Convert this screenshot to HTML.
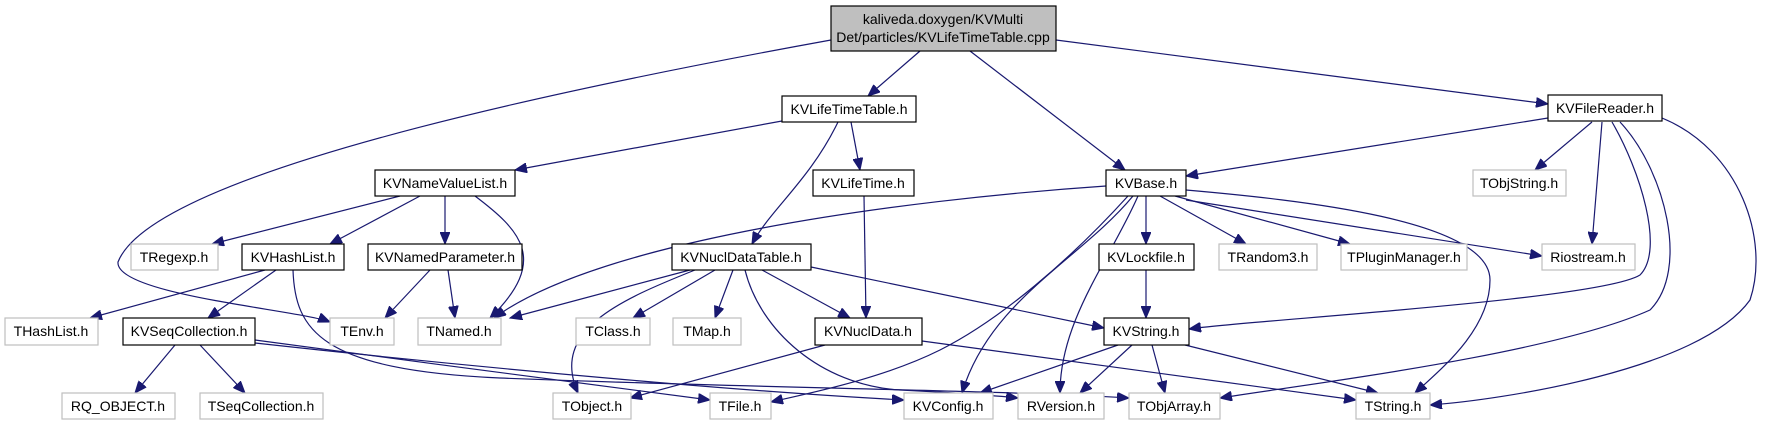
<!DOCTYPE html>
<html><head><meta charset="utf-8"><style>
html,body{margin:0;padding:0;background:#fff;}
svg{display:block;}
text{font-family:"Liberation Sans",sans-serif;font-size:14px;fill:#000;text-anchor:middle;}
.b{fill:#fff;stroke:#000;stroke-width:1.2;}
.g{fill:#fff;stroke:#bfbfbf;stroke-width:1.2;}
.e{fill:none;stroke:#191970;stroke-width:1.2;marker-end:url(#a);}
</style></head><body>
<svg width="1767" height="425" viewBox="0 0 1767 425" xmlns="http://www.w3.org/2000/svg">
<defs><marker id="a" markerUnits="userSpaceOnUse" markerWidth="14" markerHeight="10" refX="12" refY="5" orient="auto"><path d="M0,0 L12,5 L0,10 z" fill="#191970" stroke="#191970"/></marker></defs>
<path class="e" d="M920,51 L868,96"/>
<path class="e" d="M970,51 L1125,170"/>
<path class="e" d="M1056,40 L1548,104"/>
<path class="e" d="M831,40 C500,100 150,180 118,262 C115,295 300,310 330,322"/>
<path class="e" d="M782,121 L515,170"/>
<path class="e" d="M851,122 L860,170"/>
<path class="e" d="M838,122 C810,180 770,210 752,244"/>
<path class="e" d="M864,196 L866,318"/>
<path class="e" d="M1548,118 L1186,176"/>
<path class="e" d="M1592,122 L1535,170"/>
<path class="e" d="M1602,122 L1592,244"/>
<path class="e" d="M1612,122 C1640,170 1665,250 1640,275 C1600,300 1250,320 1189,329"/>
<path class="e" d="M1620,122 C1665,170 1690,270 1650,310 C1550,355 1300,385 1220,398"/>
<path class="e" d="M1662,118 C1740,150 1770,240 1750,300 C1700,370 1500,400 1430,405"/>
<path class="e" d="M1106,186 C900,200 600,240 494,318"/>
<path class="e" d="M1128,196 C1070,260 1000,320 940,350 C880,380 800,395 771,402"/>
<path class="e" d="M1133,196 C1080,260 990,300 962,393"/>
<path class="e" d="M1138,196 C1110,260 1060,320 1060,393"/>
<path class="e" d="M1146,196 L1146,244"/>
<path class="e" d="M1160,196 L1246,244"/>
<path class="e" d="M1175,196 L1350,244"/>
<path class="e" d="M1186,200 L1542,256"/>
<path class="e" d="M1186,190 C1300,200 1490,220 1490,280 C1490,330 1440,370 1415,393"/>
<path class="e" d="M1146,270 L1146,318"/>
<path class="e" d="M1118,345 L980,393"/>
<path class="e" d="M1132,345 L1080,393"/>
<path class="e" d="M1152,345 L1165,393"/>
<path class="e" d="M1185,345 L1378,393"/>
<path class="e" d="M400,196 L212,244"/>
<path class="e" d="M420,196 L330,244"/>
<path class="e" d="M445,196 L445,244"/>
<path class="e" d="M475,196 C520,230 550,260 490,318"/>
<path class="e" d="M265,270 L90,318"/>
<path class="e" d="M276,270 L208,318"/>
<path class="e" d="M293,270 C295,330 320,370 500,378 C750,388 1000,390 1129,398"/>
<path class="e" d="M430,270 L385,318"/>
<path class="e" d="M448,270 L455,318"/>
<path class="e" d="M175,345 L135,393"/>
<path class="e" d="M200,345 L245,393"/>
<path class="e" d="M255,340 C400,360 600,385 710,400"/>
<path class="e" d="M255,343 C500,370 750,392 904,400"/>
<path class="e" d="M690,270 L510,318"/>
<path class="e" d="M695,270 C620,300 550,330 578,393"/>
<path class="e" d="M715,270 L633,318"/>
<path class="e" d="M733,270 L715,318"/>
<path class="e" d="M762,270 L850,318"/>
<path class="e" d="M811,267 L1104,328"/>
<path class="e" d="M745,270 C760,330 820,385 900,390 C960,393 990,395 1018,398"/>
<path class="e" d="M825,345 L630,398"/>
<path class="e" d="M922,341 L1356,400"/>
<rect x="831" y="6" width="225" height="45" fill="#bfbfbf" stroke="#000" stroke-width="1.2"/>
<text x="943" y="24">kaliveda.doxygen/KVMulti</text>
<text x="943" y="42">Det/particles/KVLifeTimeTable.cpp</text>
<rect class="b" x="782" y="96" width="134" height="26"/><text x="849" y="114">KVLifeTimeTable.h</text>
<rect class="b" x="1548" y="95" width="114" height="26"/><text x="1605" y="113">KVFileReader.h</text>
<rect class="b" x="375" y="170" width="140" height="26"/><text x="445" y="188">KVNameValueList.h</text>
<rect class="b" x="813" y="170" width="101" height="26"/><text x="863" y="188">KVLifeTime.h</text>
<rect class="b" x="1106" y="170" width="80" height="26"/><text x="1146" y="188">KVBase.h</text>
<rect class="g" x="1473" y="170" width="93" height="26"/><text x="1519" y="188">TObjString.h</text>
<rect class="g" x="131" y="244" width="87" height="26"/><text x="174" y="262">TRegexp.h</text>
<rect class="b" x="242" y="244" width="102" height="26"/><text x="293" y="262">KVHashList.h</text>
<rect class="b" x="368" y="244" width="154" height="26"/><text x="445" y="262">KVNamedParameter.h</text>
<rect class="b" x="672" y="244" width="139" height="26"/><text x="741" y="262">KVNuclDataTable.h</text>
<rect class="b" x="1099" y="244" width="95" height="26"/><text x="1146" y="262">KVLockfile.h</text>
<rect class="g" x="1219" y="244" width="98" height="26"/><text x="1268" y="262">TRandom3.h</text>
<rect class="g" x="1341" y="244" width="126" height="26"/><text x="1404" y="262">TPluginManager.h</text>
<rect class="g" x="1542" y="244" width="93" height="26"/><text x="1588" y="262">Riostream.h</text>
<rect class="g" x="5" y="318" width="93" height="27"/><text x="51" y="336">THashList.h</text>
<rect class="b" x="123" y="318" width="132" height="27"/><text x="189" y="336">KVSeqCollection.h</text>
<rect class="g" x="330" y="318" width="64" height="27"/><text x="362" y="336">TEnv.h</text>
<rect class="g" x="418" y="318" width="83" height="27"/><text x="459" y="336">TNamed.h</text>
<rect class="g" x="576" y="318" width="74" height="27"/><text x="613" y="336">TClass.h</text>
<rect class="g" x="673" y="318" width="68" height="27"/><text x="707" y="336">TMap.h</text>
<rect class="b" x="815" y="318" width="107" height="27"/><text x="868" y="336">KVNuclData.h</text>
<rect class="b" x="1104" y="318" width="85" height="27"/><text x="1146" y="336">KVString.h</text>
<rect class="g" x="62" y="393" width="113" height="26"/><text x="118" y="411">RQ_OBJECT.h</text>
<rect class="g" x="200" y="393" width="123" height="26"/><text x="261" y="411">TSeqCollection.h</text>
<rect class="g" x="553" y="393" width="78" height="26"/><text x="592" y="411">TObject.h</text>
<rect class="g" x="710" y="393" width="61" height="26"/><text x="740" y="411">TFile.h</text>
<rect class="g" x="904" y="393" width="89" height="26"/><text x="948" y="411">KVConfig.h</text>
<rect class="g" x="1018" y="393" width="86" height="26"/><text x="1061" y="411">RVersion.h</text>
<rect class="g" x="1129" y="393" width="91" height="26"/><text x="1174" y="411">TObjArray.h</text>
<rect class="g" x="1356" y="393" width="74" height="26"/><text x="1393" y="411">TString.h</text>
</svg>
</body></html>
